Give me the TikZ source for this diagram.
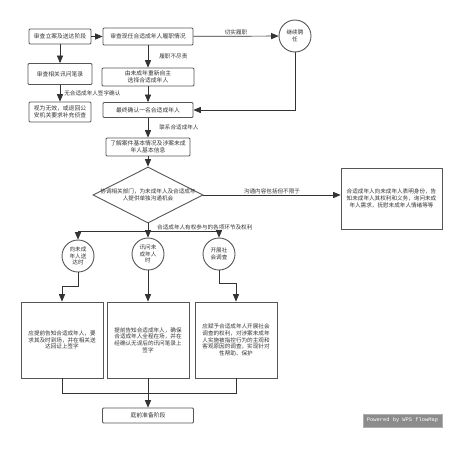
\documentclass[tikz,border=0pt]{standalone}
\usepackage{fontspec}
\setmainfont{Noto Sans CJK SC}
\setmonofont{Liberation Mono}
\usetikzlibrary{shapes,arrows,positioning}
\definecolor{Ink}{HTML}{333333}
\definecolor{Edge}{HTML}{555555}
\definecolor{Badge}{HTML}{8C8C8C}
\tikzstyle{Block} = [draw=Edge, line width=0.9pt, rectangle, rounded corners=1pt, align=center, text=Ink, inner sep=1pt, font=\fontsize{5.8}{7}\selectfont]
\tikzstyle{Big} = [Block, rounded corners=0pt, minimum width=82pt, minimum height=76pt, font=\fontsize{5.6}{6.6}\selectfont]
\tikzstyle{Round} = [draw=Edge, line width=0.9pt, circle, minimum size=32pt, inner sep=0pt, align=center, text=Ink, font=\fontsize{5.6}{6.6}\selectfont]
\tikzstyle{Decision} = [draw=Edge, line width=0.9pt, diamond, minimum width=110pt, minimum height=56pt, inner sep=0pt]
\tikzstyle{Text} = [text=Ink, inner sep=1pt, align=center, font=\fontsize{5.6}{6.6}\selectfont]
\tikzstyle{Arrow} = [draw=Ink, line width=0.7pt, -triangle 45]
\tikzstyle{Wire} = [draw=Ink, line width=0.7pt]
\tikzstyle{Mark} = [fill=Badge, draw=Badge!70, text=white, minimum width=79pt, minimum height=13pt, inner sep=0pt, font=\ttfamily\fontsize{5.4}{6}\selectfont]

\begin{document}
\begin{tikzpicture}[x=1pt, y=-1pt]
    \useasboundingbox (0,0) rectangle (468,450);
    % top stage
    \node[Block, minimum width=62pt, minimum height=15pt] (i_stage)  at (60,36.5)  {审查立案及送达阶段};
    \node[Block, minimum width=90pt, minimum height=17pt] (review)   at (148,36.5) {审查现任合适成年人履职情况};
    \node[Round] (o_keep) at (295,36) {继续聘\\任};
    \node[Block, minimum width=92pt, minimum height=18pt] (reselect) at (148,77)   {由未成年重新自主\\选择合适成年人};
    \node[Block, minimum width=90pt, minimum height=15pt] (confirm)  at (148,110)  {最终确认一名合适成年人};
    \node[Block, minimum width=64pt, minimum height=21pt] (records)  at (60,74)    {审查相关讯问笔录};
    \node[Block, minimum width=62pt, minimum height=20pt] (invalid)  at (60,112)   {视为无效，或退回公\\安机关要求补充侦查};
    \node[Block, minimum width=84pt, minimum height=18pt] (learn)    at (148,147)  {了解案件基本情况及涉案未成\\年人基本信息};
    % communication
    \node[Decision] (coord) at (148,195) {};
    \node[Text] (coord_t) at (coord) {协调相关部门，为未成年人及合适成年\\人提供单独沟通机会};
    \node[Block, rounded corners=0pt, minimum width=101pt, minimum height=61pt, font=\fontsize{5.6}{6.6}\selectfont] (content) at (391.5,198.5) {合适成年人向未成年人表明身份，告\\知未成年人其权利和义务，询问未成\\年人需求，抚慰未成年人情绪等等};
    \coordinate (split) at (148,231);
    % rights
    \node[Round] (c_serve)   at (78,256)  {向未成\\年人送\\达时};
    \node[Round] (c_inquiry) at (148,254) {讯问未\\成年人\\时};
    \node[Round] (c_survey)  at (219,254) {开展社\\会调查};
    \node[Big] (b_serve)   at (62,340)  {应提前告知合适成年人，要\\求其及时到场，并在相关送\\达回证上签字};
    \node[Big] (b_inquiry) at (148,340) {提前告知合适成年人，确保\\合适成年人全程在场，并在\\经确认无误后的讯问笔录上\\签字};
    \node[Big] (b_survey)  at (236,340) {应赋予合适成年人开展社会\\调查的权利，对涉案未成年\\人实施被指控行为的主观和\\客观原因的调查，实现针对\\性帮助、保护};
    \node[Block, minimum width=91pt, minimum height=15pt] (trial) at (148,415.5) {庭前准备阶段};
    \node[Mark] (wps) at (402.5,420.5) {Powered by WPS flowMap};
    % connectors
    \draw[Arrow] (i_stage) -- (review);
    \draw[Arrow] (review) -- node[Text, above] {切实履职} (o_keep);
    \draw[Arrow] (review) -- node[Text, right, xshift=10pt] {履职不尽责} (reselect);
    \draw[Arrow] (reselect) -- (confirm);
    \draw[Arrow] (o_keep.south) |- (confirm.east);
    \draw[Arrow] (i_stage) -- (records);
    \draw[Arrow] (records) -- node[Text, right, xshift=3pt] {无合适成年人签字确认} (invalid);
    \draw[Arrow] (confirm) -- node[Text, right, xshift=10pt] {联系合适成年人} (learn);
    \draw[Arrow] (learn) -- (coord);
    \draw[Arrow] (coord.east) -- node[Text, above] {沟通内容包括但不限于} (coord.east -| content.west);
    \draw[Wire] (coord.south) -- (split);
    \node[Text, anchor=south west, xshift=8pt] at (split) {合适成年人有权参与的各项环节及权利};
    \draw[Wire] (split -| c_serve) -- (split -| c_survey);
    \draw[Arrow] (split -| c_serve) -- (c_serve);
    \draw[Arrow] (split) -- (c_inquiry);
    \draw[Arrow] (split -| c_survey) -- (c_survey);
    \draw[Arrow] (c_serve.south) -- ++(0,14) -| (b_serve.north);
    \draw[Arrow] (c_inquiry) -- (b_inquiry);
    \draw[Arrow] (c_survey.south) -- ++(0,13) -| (b_survey.north);
    \draw[Wire] (b_serve.south) -- ++(0,15) -| (b_survey.south);
    \draw[Arrow] (b_inquiry) -- (trial);
\end{tikzpicture}
\end{document}
